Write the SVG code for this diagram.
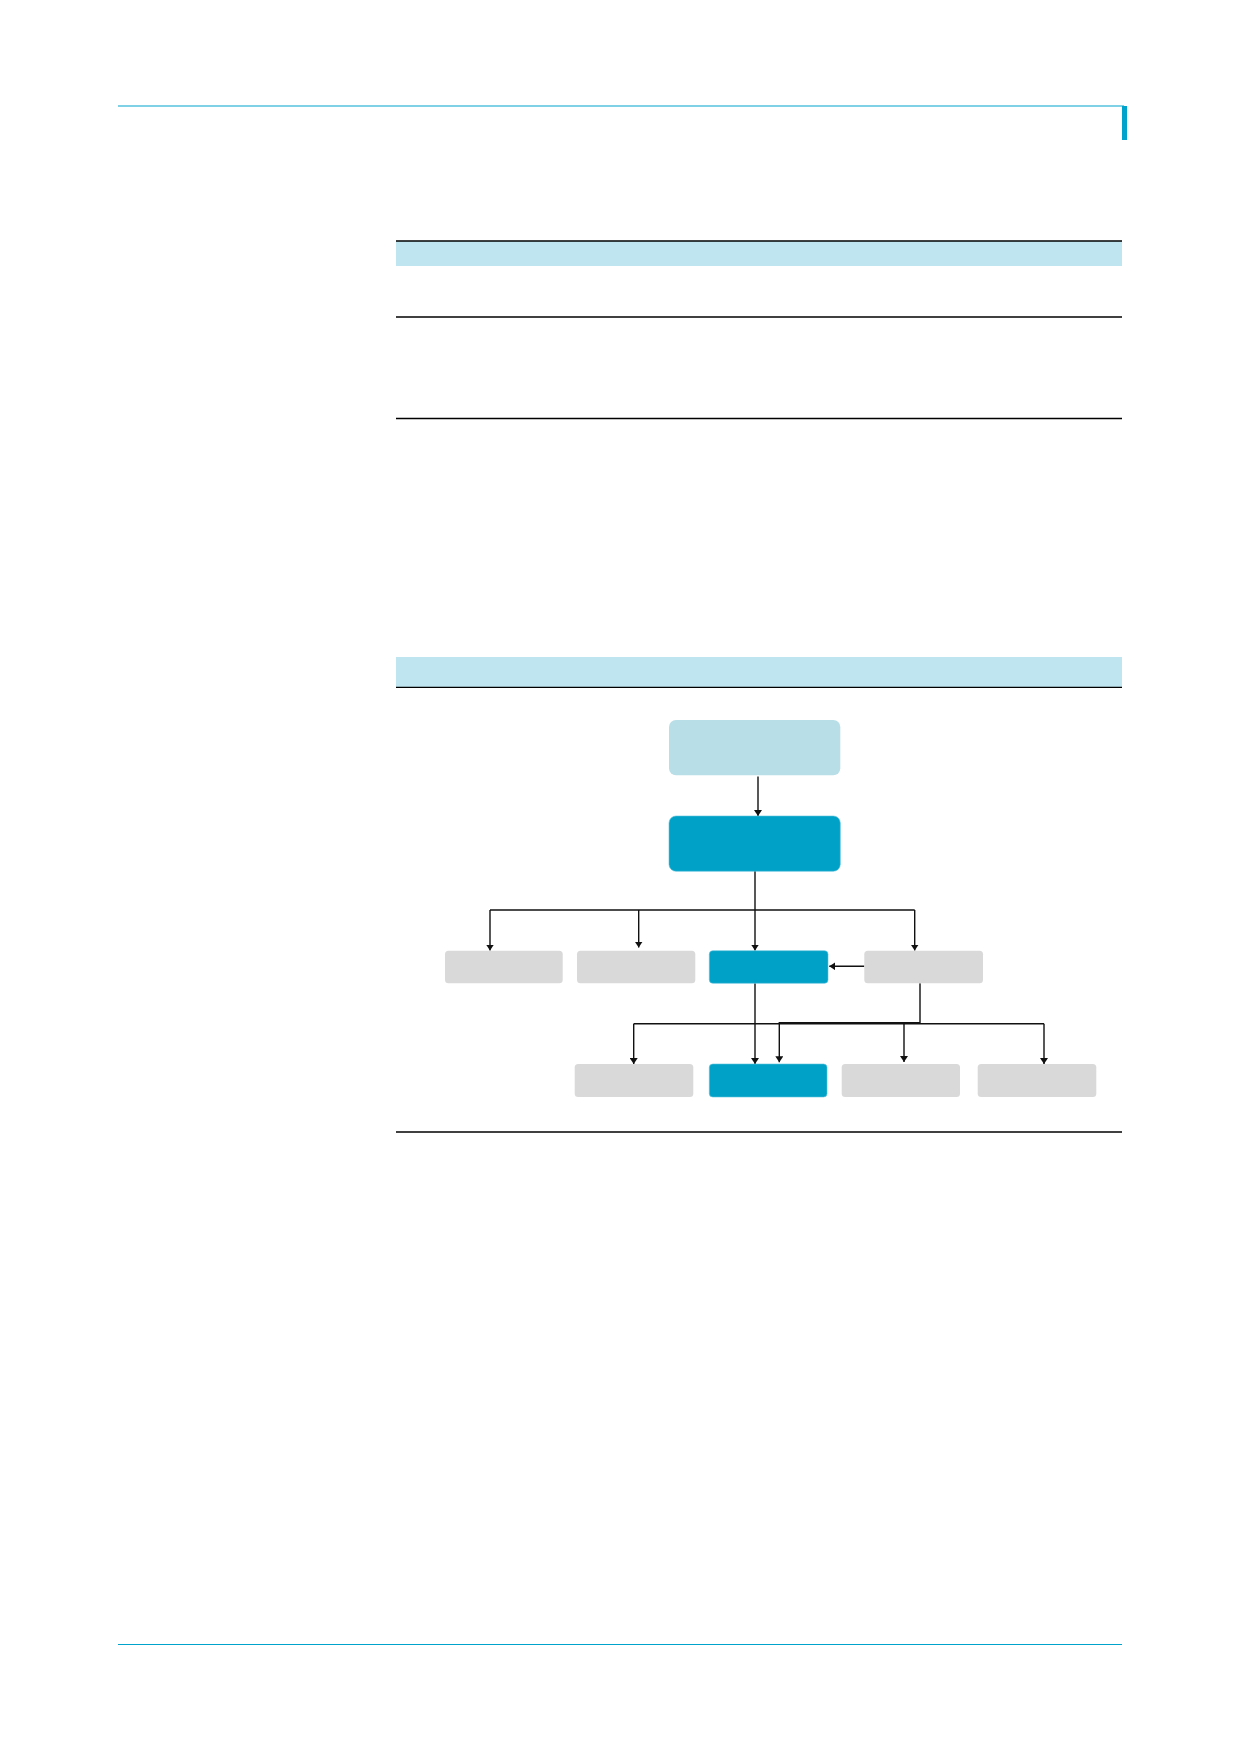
<svg xmlns="http://www.w3.org/2000/svg" width="1240" height="1754" viewBox="0 0 1240 1754">
  <style>
    .rule { stroke: #000; stroke-width: 1.3; fill: none; }
    .accent { stroke: #00a3cb; stroke-width: 1.2; fill: none; }
    .band { fill: #bfe6f0; }
    .gray { fill: #d9d9d9; }
    .blue { fill: #00a1c7; stroke: #5cc3dd; stroke-width: 0.6; }
    .light { fill: #b8dee8; }
    .conn { stroke: #111; stroke-width: 1.4; fill: none; }
    .arr { marker-end: url(#ah); }
  </style>
  <defs>
    <marker id="ah" viewBox="0 0 6 8" refX="6" refY="4" markerWidth="6" markerHeight="8" markerUnits="userSpaceOnUse" orient="auto">
      <path d="M0,0 L6,4 L0,8 z" fill="#111"/>
    </marker>
  </defs>
  <rect width="1240" height="1754" fill="#fff"/>

  <g id="page">
    <line class="accent" x1="118" y1="106" x2="1124" y2="106"/>
    <rect x="1122" y="106" width="5" height="34" fill="#00a3cb"/>
    <line class="accent" x1="118" y1="1644.5" x2="1122" y2="1644.5"/>
  </g>

  <g id="table1">
    <rect class="band" x="396" y="241" width="726" height="25"/>
    <line class="rule" x1="396" y1="241" x2="1122" y2="241"/>
    <line class="rule" x1="396" y1="317" x2="1122" y2="317"/>
    <line class="rule" x1="396" y1="418.5" x2="1122" y2="418.5"/>
  </g>

  <g id="table2">
    <rect class="band" x="396" y="657" width="726" height="30"/>
    <line class="rule" x1="396" y1="687.3" x2="1122" y2="687.3"/>
    <line class="rule" x1="396" y1="1132" x2="1122" y2="1132"/>
  </g>

  <g id="connectors">
    <path class="conn arr" d="M758,776.5 V816"/>
    <path class="conn arr" d="M755,871 V950.5"/>
    <path class="conn" d="M490,910 H914.7"/>
    <path class="conn arr" d="M490,910 V950.5"/>
    <path class="conn arr" d="M638.7,910 V947.5"/>
    <path class="conn arr" d="M914.7,910 V950.5"/>
    <path class="conn arr" d="M864.3,966.3 H829.3"/>
    <path class="conn arr" d="M755,983.3 V1064"/>
    <path class="conn arr" d="M920,983.3 V1022.7 H779.3 V1062.3"/>
    <path class="conn" d="M633.7,1023.7 H1044"/>
    <path class="conn arr" d="M633.7,1023.7 V1064"/>
    <path class="conn arr" d="M904,1023.7 V1062"/>
    <path class="conn arr" d="M1044,1023.7 V1064"/>
  </g>

  <g id="node-top"><rect class="light" x="669" y="720" width="171.3" height="55.3" rx="7"/></g>
  <g id="node-main"><rect class="blue" x="669" y="816" width="171.3" height="55.3" rx="7"/></g>
  <g id="node-a"><rect class="gray" x="445" y="950.7" width="117.7" height="32.6" rx="3.5"/></g>
  <g id="node-b"><rect class="gray" x="577" y="950.7" width="118.3" height="32.6" rx="3.5"/></g>
  <g id="node-c"><rect class="blue" x="709.3" y="950.7" width="118.7" height="32.6" rx="3.5"/></g>
  <g id="node-d"><rect class="gray" x="864.3" y="950.7" width="118.7" height="32.6" rx="3.5"/></g>
  <g id="node-e"><rect class="gray" x="574.7" y="1064" width="118.6" height="33" rx="3.5"/></g>
  <g id="node-f"><rect class="blue" x="709.3" y="1064" width="117.7" height="33" rx="3.5"/></g>
  <g id="node-g"><rect class="gray" x="841.7" y="1064" width="118.3" height="33" rx="3.5"/></g>
  <g id="node-h"><rect class="gray" x="977.7" y="1064" width="118.6" height="33" rx="3.5"/></g>
</svg>
